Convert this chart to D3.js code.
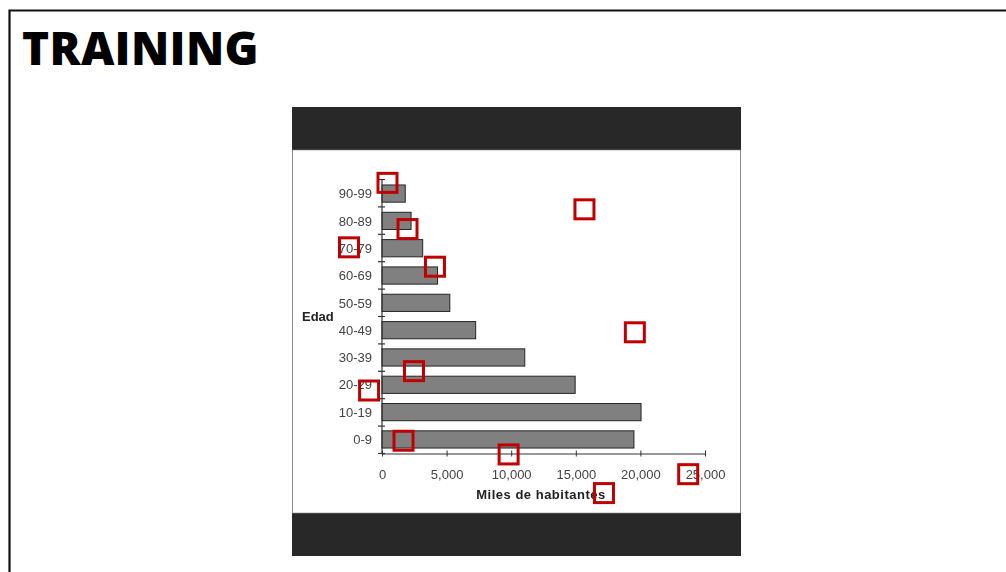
<!DOCTYPE html>
<html>
<head>
<meta charset="utf-8">
<script src="https://cdn.jsdelivr.net/npm/d3@7"></script>
<style>
  html, body { margin: 0; padding: 0; background: #fff; }
  svg { display: block; }
</style>
</head>
<body>
<svg id="chart" width="1006" height="572"></svg>
<script>
// Population by age group (thousands of inhabitants)
const categories = ["90-99", "80-89", "70-79", "60-69", "50-59", "40-49", "30-39", "20-29", "10-19", "0-9"];
const values = [1800, 2250, 3150, 4300, 5250, 7250, 11050, 14950, 20050, 19500];
const xTicks = [0, 5000, 10000, 15000, 20000, 25000];
const title = "TRAINING";
const yTitle = "Edad";
const xTitle = "Miles de habitantes";

// Highlight boxes, placed by data value (x) and category (y) with a fraction of the band
const marks = [
  { v: 425,   c: "90-99", f: -0.24 },
  { v: 15670, c: "80-89", f: -0.27 },
  { v: 1975,  c: "80-89", f: 0.45 },
  { v: -2555, c: "70-79", f: 0.12 },
  { v: 4100,  c: "60-69", f: -0.17 },
  { v: 19570, c: "40-49", f: 0.23 },
  { v: 2475,  c: "30-39", f: 0.65 },
  { v: -1000, c: "20-29", f: 0.36 },
  { v: 1665,  c: "0-9",   f: 0.2 },
  { v: 9800,  c: "0-9",   f: 0.7 },
  { v: 23700, c: "0-9",   f: 1.42 },
  { v: 17180, c: "0-9",   f: 2.11 }
];

const svg = d3.select("#chart");
const defs = svg.append("defs");
defs.append("filter").attr("id", "soft")
  .append("feGaussianBlur").attr("stdDeviation", 0.35);

// Page frame
svg.append("path")
  .attr("d", "M9.5,572 V10.5 H1006")
  .attr("fill", "none").attr("stroke", "#111").attr("stroke-width", 2.2);

svg.append("text")
  .attr("x", 22).attr("y", 65)
  .attr("font-family", "'Open Sans', sans-serif")
  .attr("font-weight", 800)
  .attr("font-size", 46)
  .attr("letter-spacing", 0.3)
  .attr("fill", "#000")
  .text(title);

// Embedded figure panel
const panel = { x: 292, y: 107, w: 449, h: 449, band: 43 };
svg.append("rect")
  .attr("x", panel.x).attr("y", panel.y).attr("width", panel.w).attr("height", panel.h)
  .attr("fill", "#282828");
svg.append("rect")
  .attr("x", panel.x + 0.5).attr("y", panel.y + panel.band)
  .attr("width", panel.w - 1).attr("height", panel.h - 2 * panel.band)
  .attr("fill", "#fff").attr("stroke", "#888").attr("stroke-width", 0.6);

const plot = { left: 382, right: 705, top: 179.5, bottom: 453.5 };

const x = d3.scaleLinear().domain([0, 25000]).range([plot.left, plot.right]);
const y = d3.scaleBand().domain(categories).range([plot.top, plot.bottom])
  .paddingInner(0.37).paddingOuter(0.2);

const g = svg.append("g").attr("filter", "url(#soft)");
const font = "Arial, 'Liberation Sans', sans-serif";

// Bars
g.selectAll("rect.bar")
  .data(categories)
  .join("rect")
  .attr("class", "bar")
  .attr("x", x(0))
  .attr("y", d => y(d))
  .attr("width", (d, i) => x(values[i]) - x(0))
  .attr("height", y.bandwidth())
  .attr("fill", "#808080")
  .attr("stroke", "#262626")
  .attr("stroke-width", 1);

// X axis
const xAxis = d3.axisBottom(x).tickValues(xTicks).tickFormat(d3.format(",")).tickSize(0);
const xg = g.append("g").attr("transform", `translate(0,${plot.bottom})`).call(xAxis);
xg.select(".domain").attr("stroke", "#333").attr("stroke-width", 1.2);
xg.selectAll(".tick line").attr("y1", -3).attr("y2", 3).attr("stroke", "#333");
xg.selectAll(".tick text")
  .attr("dy", "0")
  .attr("y", 25)
  .attr("font-family", font)
  .attr("font-size", 13)
  .attr("fill", "#444");

// Y axis: ticks sit on the band boundaries
const bounds = d3.range(categories.length + 1).map(i => plot.top + i * (plot.bottom - plot.top) / categories.length);
g.append("line")
  .attr("x1", plot.left).attr("x2", plot.left)
  .attr("y1", plot.top).attr("y2", plot.bottom)
  .attr("stroke", "#333").attr("stroke-width", 1.2);
g.selectAll("line.ytick")
  .data(bounds)
  .join("line")
  .attr("class", "ytick")
  .attr("x1", plot.left - 4).attr("x2", plot.left + 3)
  .attr("y1", d => d).attr("y2", d => d)
  .attr("stroke", "#333").attr("stroke-width", 1.2);
g.selectAll("text.ylab")
  .data(categories)
  .join("text")
  .attr("class", "ylab")
  .attr("x", plot.left - 10)
  .attr("y", d => y(d) + y.bandwidth() / 2)
  .attr("dy", "0.36em")
  .attr("text-anchor", "end")
  .attr("font-family", font)
  .attr("font-size", 13)
  .attr("fill", "#444")
  .text(d => d);

// Axis titles
g.append("text")
  .attr("x", 302).attr("y", 321)
  .attr("font-family", font)
  .attr("font-weight", "bold").attr("font-size", 13).attr("fill", "#222")
  .text(yTitle);
g.append("text")
  .attr("x", 541).attr("y", 499)
  .attr("text-anchor", "middle")
  .attr("font-family", font)
  .attr("letter-spacing", 0.5)
  .attr("font-weight", "bold").attr("font-size", 13).attr("fill", "#222")
  .text(xTitle);

// Highlight boxes
const step = (plot.bottom - plot.top) / categories.length;
const box = 19;
svg.selectAll("rect.mark")
  .data(marks)
  .join("rect")
  .attr("class", "mark")
  .attr("x", d => x(d.v) - box / 2)
  .attr("y", d => y(d.c) - y.step() * y.paddingInner() / 2 + d.f * step)
  .attr("width", box).attr("height", box)
  .attr("fill", "none")
  .attr("stroke", "#c00000")
  .attr("stroke-width", 3);
</script>
</body>
</html>
